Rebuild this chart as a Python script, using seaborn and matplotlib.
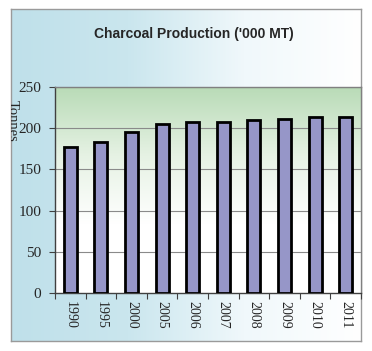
import numpy as np
import pandas as pd
import matplotlib
matplotlib.use('Agg')
import matplotlib.pyplot as plt
import seaborn as sns
from matplotlib.colors import LinearSegmentedColormap

# data
years = ['1990', '1995', '2000', '2005', '2006', '2007', '2008', '2009', '2010', '2011']
production = [177.5, 183, 195, 205.5, 207, 208, 209.5, 211, 213, 214]
title = "Charcoal Production ('000 MT)"
ylabel = 'Tonnes'

df = pd.DataFrame({'year': years, 'production': production})

sns.set_theme(style='white')
W, H = 372, 351
fig = plt.figure(figsize=(W / 100, H / 100), dpi=100)

# outer gradient background (blue -> white, left to right)
bg = fig.add_axes([11 / W, 1 - 341 / H, 350 / W, 332 / H])
bg_cmap = LinearSegmentedColormap.from_list('bg', ['#bfe0ea', '#cae6ee', '#f0f8fb', '#ffffff'])
bg.imshow(np.linspace(0, 1, 256)[None, :], aspect='auto', cmap=bg_cmap, extent=[0, 1, 0, 1])
bg.set_xlim(0, 1)
bg.set_ylim(0, 1)
bg.set_xticks([])
bg.set_yticks([])
for s in bg.spines.values():
    s.set_color('#9a9a9a')
    s.set_linewidth(1)

# y label partly cut off by the chart border
bg.text(1.5 / 350, 1 - 112 / 332, ylabel, rotation=270, ha='center', va='center',
        fontfamily='Liberation Serif', fontsize=10.5, clip_on=True)

# plot area
ax = fig.add_axes([55 / W, 1 - 293 / H, 306 / W, 206 / H])
ax.set_zorder(2)
pa_cmap = LinearSegmentedColormap.from_list('pa', ['#ffffff', '#ffffff', '#e6f2e4', '#b9dbb7'])
ax.imshow(np.linspace(0, 1, 256)[:, None], aspect='auto', cmap=pa_cmap, origin='lower',
          extent=[-0.5, len(years) - 0.5, 0, 250], zorder=0)

sns.barplot(data=df, x='year', y='production', color='#9696c8', width=0.42,
            edgecolor='black', linewidth=2, saturation=1, ax=ax, zorder=3)

ax.set_xlim(-0.5, len(years) - 0.5)
ax.set_ylim(0, 250)
ax.set_yticks(range(0, 251, 50))
for v in range(50, 251, 50):
    ax.axhline(v, color='#8a8a8a', lw=0.8, zorder=1)
for s in ['top', 'right']:
    ax.spines[s].set_color('#808080')
for s in ['left', 'bottom']:
    ax.spines[s].set_color('#404040')
for s in ax.spines.values():
    s.set_linewidth(1)

ax.set_xlabel('')
ax.set_ylabel('')
ax.set_xticks(np.arange(len(years)))
ax.set_xticklabels(years, rotation=270, fontfamily='Liberation Serif', fontsize=10)
ax.tick_params(axis='x', length=0, pad=6)
ax.tick_params(axis='y', length=4, width=0.8, color='#404040', pad=6, left=True)
for lab in ax.get_yticklabels():
    lab.set_fontfamily('Liberation Serif')
    lab.set_fontsize(11)
# minor ticks between categories
ax.set_xticks(np.arange(-0.5, len(years), 1), minor=True)
ax.tick_params(axis='x', which='minor', length=4, width=0.8, color='#404040', bottom=True)

fig.text(0.5 + 8 / W, 1 - 34 / H, title, ha='center', va='center',
         fontfamily='Liberation Sans', fontweight='bold', fontsize=10)

fig.savefig('out.png', dpi=100)
